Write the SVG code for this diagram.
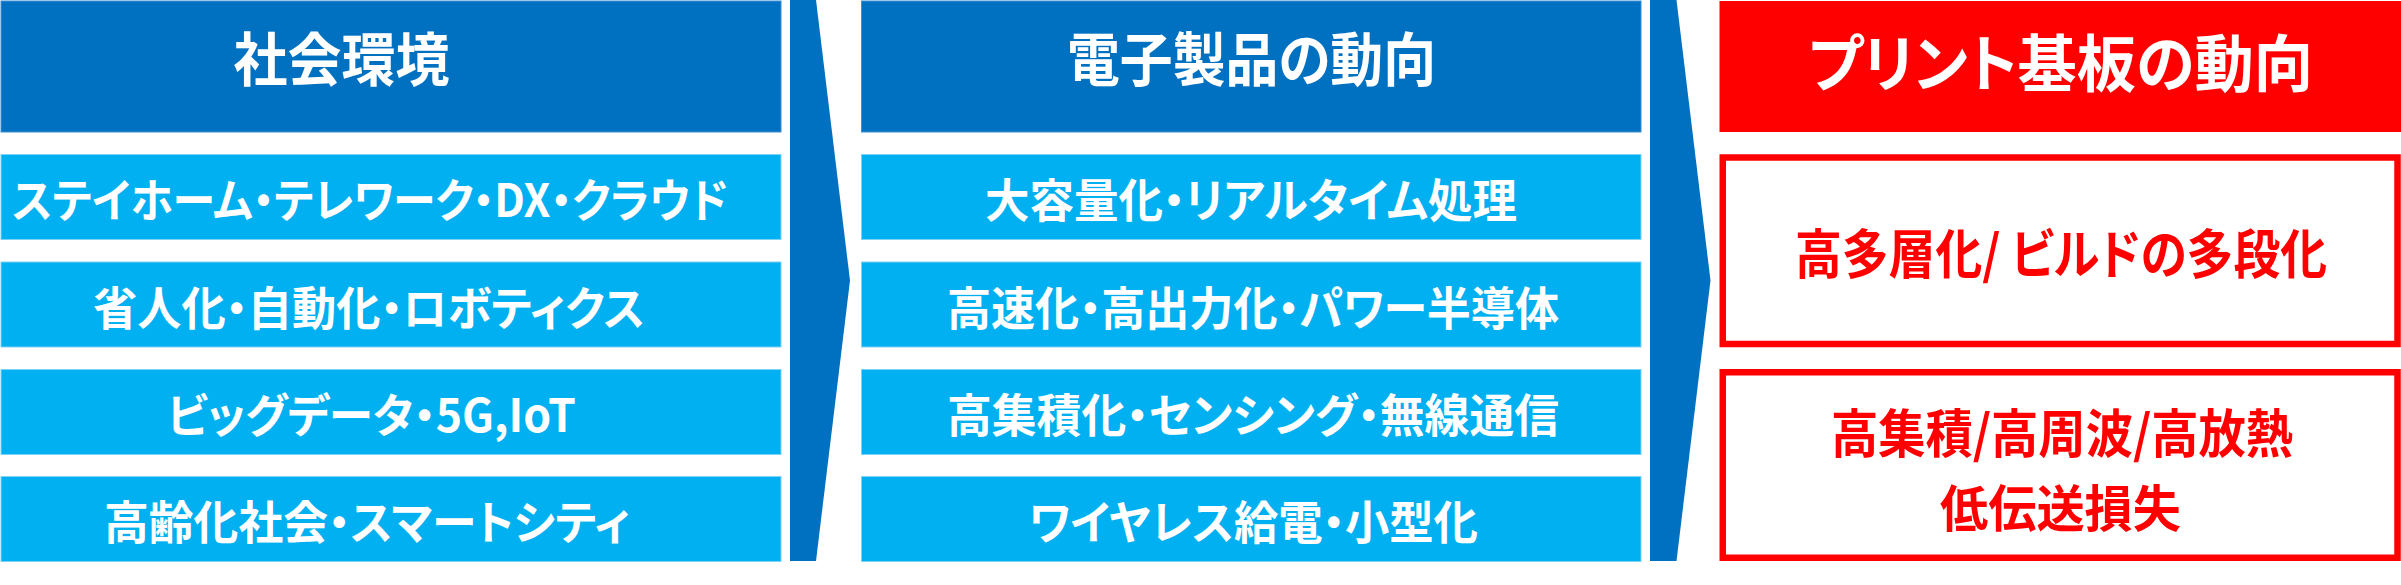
<svg xmlns="http://www.w3.org/2000/svg" width="2401" height="585" viewBox="0 0 2401 585">
<style>
.hd{fill:#0070C0;stroke:#3d8fd4;stroke-width:1}
.it{fill:#00B0F0;stroke:#7fd3f5;stroke-width:1}
.rh{fill:#FF0000}
.rb{fill:#FFFFFF;stroke:#FF0000;stroke-width:6.5}
.arr{fill:#0070C0}
text{font-family:"Noto Sans CJK JP","Noto Sans",sans-serif;font-weight:700;text-anchor:middle;font-feature-settings:"palt"}
.w{fill:#FFFFFF}
.r{fill:#FF0000}
</style>
<rect width="2401" height="585" fill="#FFFFFF"/>
<g id="connectors">
<polygon class="arr" points="790,0 816,0 850,280.5 816,561 790,561"/>
<polygon class="arr" points="1650,0 1676.5,0 1710.5,280.5 1676.5,561 1650,561"/>
</g>
<g id="col1-header"><rect class="hd" x="1" y="1" width="780" height="131"/><text class="w" x="341.5" y="81" font-size="58" textLength="216" lengthAdjust="spacingAndGlyphs">社会環境</text></g>
<g id="col1-r1"><rect class="it" x="1" y="154.5" width="780" height="85"/><text class="w" x="370" y="216.5" font-size="46" textLength="716" lengthAdjust="spacingAndGlyphs">ステイホーム・テレワーク・DX・クラウド</text></g>
<g id="col1-r2"><rect class="it" x="1" y="262" width="780" height="85"/><text class="w" x="369" y="324.5" font-size="46" textLength="552" lengthAdjust="spacingAndGlyphs">省人化・自動化・ロボティクス</text></g>
<g id="col1-r3"><rect class="it" x="1" y="369.5" width="780" height="85"/><text class="w" x="371.5" y="431.5" font-size="46" textLength="409" lengthAdjust="spacingAndGlyphs">ビッグデータ・5G,IoT</text></g>
<g id="col1-r4"><rect class="it" x="1" y="476.5" width="780" height="85"/><text class="w" x="367" y="538.5" font-size="46" textLength="526" lengthAdjust="spacingAndGlyphs">高齢化社会・スマートシティ</text></g>
<g id="col2-header"><rect class="hd" x="861.5" y="1" width="779.5" height="131"/><text class="w" x="1251.5" y="81" font-size="58" textLength="369" lengthAdjust="spacingAndGlyphs">電子製品の動向</text></g>
<g id="col2-r1"><rect class="it" x="861.5" y="154.5" width="779.5" height="85"/><text class="w" x="1251" y="216.5" font-size="46" textLength="532" lengthAdjust="spacingAndGlyphs">大容量化・リアルタイム処理</text></g>
<g id="col2-r2"><rect class="it" x="861.5" y="262" width="779.5" height="85"/><text class="w" x="1253" y="324.5" font-size="46" textLength="612" lengthAdjust="spacingAndGlyphs">高速化・高出力化・パワー半導体</text></g>
<g id="col2-r3"><rect class="it" x="861.5" y="369.5" width="779.5" height="85"/><text class="w" x="1253" y="431.5" font-size="46" textLength="612" lengthAdjust="spacingAndGlyphs">高集積化・センシング・無線通信</text></g>
<g id="col2-r4"><rect class="it" x="861.5" y="476.5" width="779.5" height="85"/><text class="w" x="1253.5" y="538.5" font-size="46" textLength="449" lengthAdjust="spacingAndGlyphs">ワイヤレス給電・小型化</text></g>
<g id="col3-header"><rect class="rh" x="1719.5" y="1" width="681.5" height="131"/><text class="w" x="2060.5" y="86.5" font-size="62" textLength="505" lengthAdjust="spacingAndGlyphs">プリント基板の動向</text></g>
<g id="col3-b1"><rect class="rb" x="1722.75" y="157.5" width="674.75" height="186.5"/><text class="r" x="2061" y="274" font-size="53" textLength="532" lengthAdjust="spacingAndGlyphs">高多層化/ ビルドの多段化</text></g>
<g id="col3-b2"><rect class="rb" x="1722.75" y="372.25" width="674.75" height="185.5"/><text class="r" x="2062" y="452.5" font-size="52" textLength="462" lengthAdjust="spacingAndGlyphs">高集積/高周波/高放熱</text><text class="r" x="2060.5" y="526.5" font-size="50" textLength="241" lengthAdjust="spacingAndGlyphs">低伝送損失</text></g>
</svg>
